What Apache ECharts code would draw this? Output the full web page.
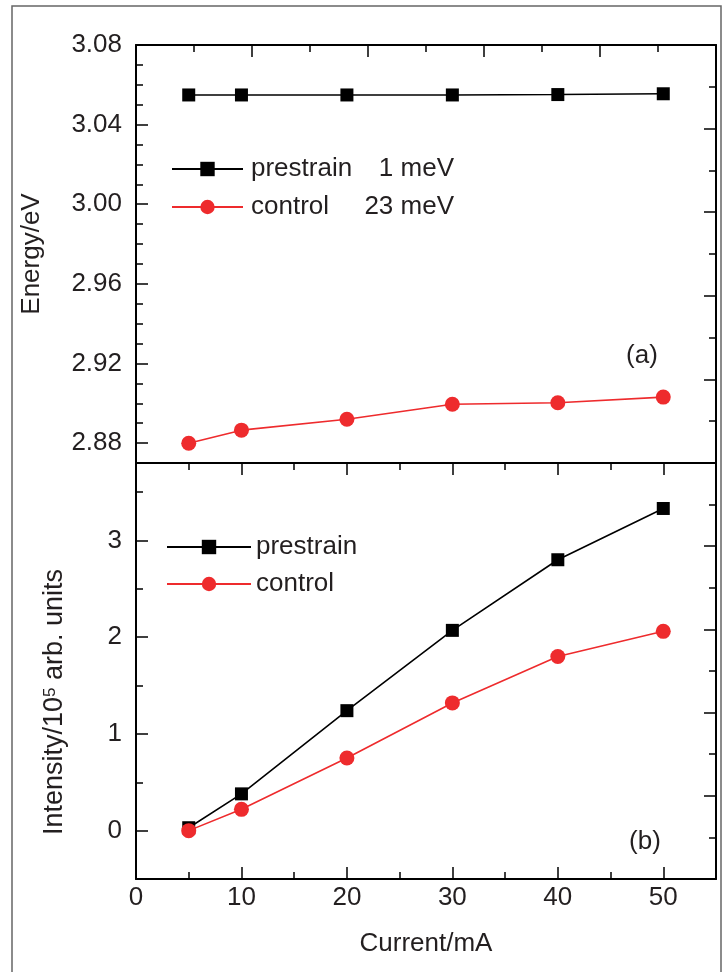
<!DOCTYPE html>
<html><head><meta charset="utf-8">
<script src="https://cdn.jsdelivr.net/npm/echarts@6/dist/echarts.min.js"></script>
<style>html,body{margin:0;padding:0;background:#fff}#c{width:727px;height:972px}</style>
</head><body><div id="c"></div>
<script>
// ---- data ----
const currents = [5, 10, 20, 30, 40, 50];
const energyPrestrain = [3.0549, 3.0549, 3.0549, 3.0549, 3.0551, 3.0555];
const energyControl = [2.8799, 2.8865, 2.8920, 2.8995, 2.9003, 2.9031];
const intensityPrestrain = [0.03, 0.38, 1.24, 2.07, 2.80, 3.33];
const intensityControl = [0.00, 0.22, 0.75, 1.32, 1.80, 2.06];
const seriesNames = ['prestrain', 'control'];
const shiftLabels = ['1 meV', '23 meV'];
const panelLabels = ['(a)', '(b)'];
const xTitle = 'Current/mA';
const yTitleTop = 'Energy/eV';
const yTitleBottom = ['Intensity/10', '5', ' arb. units'];

// ---- layout ----
const L = 136, R = 716, T = 45, M = 463, B = 879, W = R - L;
const eMin = 2.87, eMax = 3.08;
const iMin = -0.5, iMax = 3.8;
const xMax = 55;
const eY = v => M - (v - eMin) * (M - T) / (eMax - eMin);
const iY = v => B - (v - iMin) * (B - M) / (iMax - iMin);
const xX = v => L + v * W / xMax;

const TXT = '#231f20';
const RED = '#ee2b2d';
const FONT = 'Liberation Sans, Arial, Helvetica, sans-serif';
const FS = 26;

const lineOnly = { show: true, onZero: false, lineStyle: { color: '#000', width: 2 } };
const noLine = { show: false, onZero: false };
function tickAxis(extra, len, minorLen, split) {
  return Object.assign({
    type: 'value',
    axisLine: noLine,
    axisTick: { show: true, inside: true, length: len, lineStyle: { color: '#000', width: 1.5 } },
    minorTick: minorLen ? { show: true, splitNumber: split, length: minorLen, lineStyle: { color: '#000', width: 1.5 } } : { show: false },
    axisLabel: { show: false },
    splitLine: { show: false }
  }, extra);
}
function plainAxis(extra) {
  return Object.assign({
    type: 'value', axisLine: lineOnly, axisTick: { show: false },
    axisLabel: { show: false }, splitLine: { show: false }
  }, extra);
}
const hidden = (g, mn, mx) => ({ type: 'value', gridIndex: g, show: false, min: mn, max: mx, axisLine: noLine });

const grids = [
  { left: L, top: T, width: W, height: M - T },                       // g0 top main
  { left: L, top: T, width: W, height: eY(2.88) - T },                // g1 top left ticks
  { left: L, top: M, width: W, height: B - M },                       // g2 bottom main
  { left: L, top: M, width: xX(50) - L, height: B - M },              // g3 bottom x ticks
  { left: L, top: iY(3.5), width: W, height: B - iY(3.5) },           // g4 bottom y minor ticks
  { left: L, top: iY(3), width: W, height: iY(0) - iY(3) }            // g5 bottom y major ticks
];

const labelStyle = { show: true, color: TXT, fontSize: FS, fontFamily: FONT };

const xAxes = [
  plainAxis({ gridIndex: 0, position: 'bottom', min: 0, max: xMax }),
  tickAxis({ gridIndex: 0, position: 'top', min: 0, max: 10, interval: 2, axisLine: lineOnly }, 12, 7, 2),
  hidden(1, 0, xMax),
  plainAxis({ gridIndex: 2, position: 'bottom', min: 0, max: xMax,
    name: xTitle, nameLocation: 'middle', nameGap: 52,
    nameTextStyle: { color: TXT, fontSize: FS, fontFamily: FONT } }),
  tickAxis({ gridIndex: 3, position: 'bottom', min: 0, max: 50, interval: 10,
    axisLabel: Object.assign({ margin: 6, formatter: v => String(v) }, labelStyle) }, 12, 7, 2),
  tickAxis({ gridIndex: 3, position: 'top', min: 0, max: 50, interval: 10 }, 12, 7, 2),
  hidden(4, 0, xMax),
  hidden(5, 0, xMax)
];

const yAxes = [
  plainAxis({ gridIndex: 0, position: 'left', min: eMin, max: eMax }),
  tickAxis({ gridIndex: 0, position: 'right', min: 0, max: 5, interval: 1, axisLine: lineOnly }, 12, 7, 2),
  tickAxis({ gridIndex: 1, position: 'left', min: 2.88, max: 3.08, interval: 0.04,
    axisLabel: Object.assign({ margin: 14, formatter: v => v.toFixed(2) }, labelStyle) }, 12, 7, 4),
  plainAxis({ gridIndex: 2, position: 'left', min: iMin, max: iMax }),
  tickAxis({ gridIndex: 2, position: 'right', min: 0, max: 5, interval: 1, axisLine: lineOnly }, 12, 7, 2),
  hidden(3, 0, 1),
  tickAxis({ gridIndex: 4, position: 'left', min: -0.5, max: 3.5, interval: 0.5 }, 7, 0, 0),
  tickAxis({ gridIndex: 5, position: 'left', min: 0, max: 3, interval: 1,
    axisLabel: Object.assign({ margin: 14, formatter: v => String(Math.round(v)) }, labelStyle) }, 12, 0, 0)
];

function mkSeries(name, xi, yi, ys, color, symbol, size) {
  return {
    type: 'line', name: name, xAxisIndex: xi, yAxisIndex: yi,
    data: currents.map((c, i) => [c, ys[i]]),
    symbol: symbol, symbolSize: size, showSymbol: true,
    lineStyle: { color: color, width: 1.6 }, itemStyle: { color: color },
    emphasis: { disabled: true }, animation: false, z: 5
  };
}

const series = [
  mkSeries('prestrain_a', 0, 0, energyPrestrain, '#000', 'rect', 13),
  mkSeries('control_a', 0, 0, energyControl, RED, 'circle', 15),
  mkSeries('prestrain_b', 3, 3, intensityPrestrain, '#000', 'rect', 13),
  mkSeries('control_b', 3, 3, intensityControl, RED, 'circle', 15)
];

const legendText = {
  prestrain_a: '{n|' + seriesNames[0] + '}{v|' + shiftLabels[0] + '}',
  control_a: '{n|' + seriesNames[1] + '}{v|' + shiftLabels[1] + '}',
  prestrain_b: '{m|' + seriesNames[0] + '}',
  control_b: '{m|' + seriesNames[1] + '}'
};
const legendRich = {
  n: { fontSize: FS, fontFamily: FONT, color: TXT, width: 108, padding: [0, 0, 0, 3], lineHeight: 18 },
  m: { fontSize: FS, fontFamily: FONT, color: TXT, lineHeight: 18 },
  v: { fontSize: FS, fontFamily: FONT, color: TXT, width: 95, align: 'right', lineHeight: 18 }
};

const option = {
  backgroundColor: '#fff',
  animation: false,
  grid: grids,
  xAxis: xAxes,
  yAxis: yAxes,
  legend: [
    { data: ['prestrain_a', 'control_a'], orient: 'vertical', left: 171, top: 156, padding: 0,
      itemWidth: 71, itemHeight: 18, itemGap: 12, selectedMode: false,
      formatter: n => legendText[n], textStyle: { rich: legendRich, lineHeight: 18 } },
    { data: ['prestrain_b', 'control_b'], orient: 'vertical', left: 166, top: 534, padding: 0,
      itemWidth: 84, itemHeight: 18, itemGap: 11, selectedMode: false,
      formatter: n => legendText[n], textStyle: { rich: legendRich, lineHeight: 18 } }
  ],
  series: series,
  graphic: [
    { type: 'rect', shape: { x: 12, y: 6, width: 709, height: 1000 }, silent: true, z: -10,
      style: { fill: 'none', stroke: '#666', lineWidth: 1.5 } },
    { type: 'text', x: 642, y: 356, silent: true,
      style: { text: panelLabels[0], fill: TXT, font: FS + 'px ' + FONT, align: 'center', verticalAlign: 'middle' } },
    { type: 'text', x: 645, y: 842, silent: true,
      style: { text: panelLabels[1], fill: TXT, font: FS + 'px ' + FONT, align: 'center', verticalAlign: 'middle' } },
    { type: 'text', x: 32, y: 254, rotation: Math.PI / 2, silent: true,
      style: { text: yTitleTop, fill: TXT, font: FS + 'px ' + FONT, align: 'center', verticalAlign: 'middle' } },
    { type: 'text', x: 55, y: 702, rotation: Math.PI / 2, silent: true,
      style: { text: yTitleBottom[0] + '{sup|' + yTitleBottom[1] + '}' + yTitleBottom[2],
        fill: TXT, fontSize: 27, fontFamily: FONT, align: 'center', verticalAlign: 'middle',
        rich: { sup: { fontSize: 17, fontFamily: FONT, fill: TXT, verticalAlign: 'top', lineHeight: 17 } } } }
  ]
};

const chart = echarts.init(document.getElementById('c'), null, { renderer: 'canvas' });
chart.setOption(option);
</script>
</body></html>
